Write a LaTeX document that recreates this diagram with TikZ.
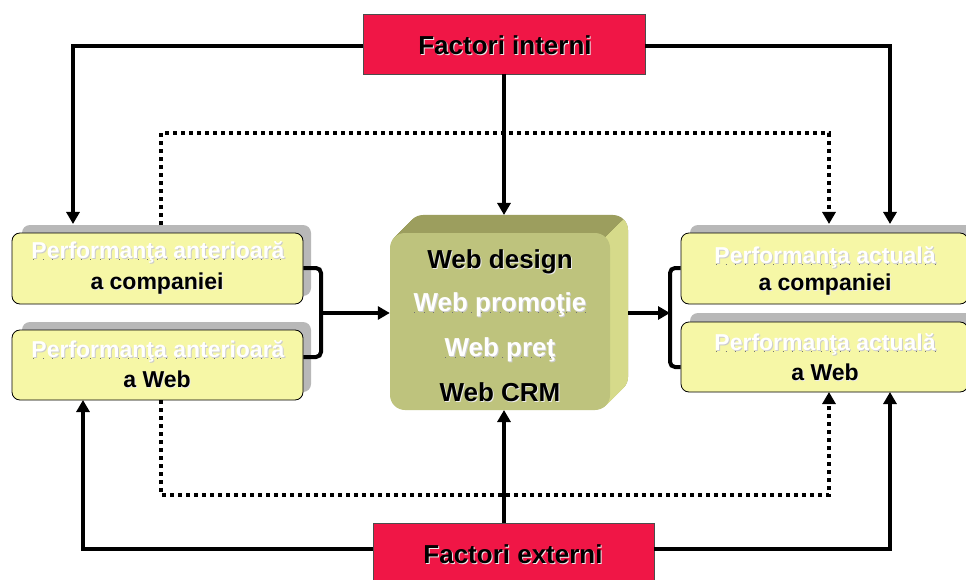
\documentclass[tikz,border=0pt]{standalone}
\usepackage{fontspec}
\setmainfont{Liberation Sans}
\usetikzlibrary{arrows.meta,calc}
\definecolor{redbox}{RGB}{240,22,70}
\definecolor{ybox}{RGB}{246,247,166}
\definecolor{shgray}{RGB}{184,184,184}
\definecolor{cfront}{RGB}{190,195,125}
\definecolor{ctop}{RGB}{156,158,94}
\definecolor{cside}{RGB}{214,218,138}
\newcommand{\embb}[1]{\leavevmode\rlap{\hspace{1pt}\raisebox{-1pt}{\textcolor{white!85!gray}{#1}}}#1}
\newcommand{\embw}[1]{\leavevmode\rlap{\hspace{1pt}\raisebox{-1pt}{\textcolor{black!20}{#1}}}\textcolor{white}{#1}}
\tikzset{
  x=1pt, y=-1pt,
  conn/.style={line width=4pt, draw=black},
  arr/.style={conn, -{Triangle[length=12pt,width=13pt]}},
  dots/.style={line width=4pt, draw=black, dash pattern=on 4pt off 4pt},
  darr/.style={dots, -{Triangle[length=12pt,width=13pt]}},
  ybx/.style={draw=black, line width=0.8pt, fill=ybox, rounded corners=8pt, inner sep=0pt},
  shbx/.style={fill=shgray, rounded corners=8pt, inner sep=0pt},
  redbx/.style={draw=black!70, line width=0.8pt, fill=redbox, inner sep=0pt},
  btxt/.style={font=\fontsize{23}{26}\selectfont\bfseries, inner sep=0pt},
  ctxt/.style={font=\fontsize{26}{30}\selectfont\bfseries, inner sep=0pt},
  dotu/.style={draw=black!55, line width=1pt, dash pattern=on 1pt off 8.5pt},
}
\begin{document}
\begin{tikzpicture}
\useasboundingbox (0,0) rectangle (966,580);
\fill[white] (0,0) rectangle (966,580);

% ---- red boxes
\node[redbx, minimum width=282pt, minimum height=60pt] (fi) at (504,44) {};
\node[ctxt] (fit) at (505,46) {\embb{Factori interni}};
\node[redbx, minimum width=281pt, minimum height=64pt] (fe) at (513.5,555) {};
\node[ctxt] (fet) at (513,555) {\embb{Factori externi}};

% ---- left boxes
\node[shbx, minimum width=289pt, minimum height=71pt] (lts) at (166.5,260.5) {};
\node[ybx, minimum width=291pt, minimum height=71pt] (lt) at (157.5,268.5) {};
\node[shbx, minimum width=289pt, minimum height=70pt] (lbs) at (166.5,357) {};
\node[ybx, minimum width=291pt, minimum height=70pt] (lb) at (157.5,365) {};
% ---- right boxes
\node[shbx, minimum width=287pt, minimum height=71pt] (rts) at (833.5,260.5) {};
\node[ybx, minimum width=287pt, minimum height=71pt] (rt) at (824.5,268.5) {};
\node[shbx, minimum width=287pt, minimum height=70pt] (rbs) at (833.5,348) {};
\node[ybx, minimum width=287pt, minimum height=70pt] (rb) at (824.5,357) {};

% ---- box texts
\node[btxt] (lt1) at (158,253) {\embw{Performanţa anterioară}};
\node[btxt] (lt2) at (157,284) {\embb{a companiei}};
\node[btxt] (lb1) at (158,352) {\embw{Performanţa anterioară}};
\node[btxt] (lb2) at (157,380) {\embb{a Web}};
\node[btxt] (rt1) at (825,258) {\embw{Performanţa actuală}};
\node[btxt] (rt2) at (825,285) {\embb{a companiei}};
\node[btxt] (rb1) at (825,345) {\embw{Performanţa actuală}};
\node[btxt] (rb2) at (825,373) {\embb{a Web}};
\foreach \t in {lt1,lb1,rt1,rb1}{
  \draw[dotu] ($(\t.base west)+(2,1)$) -- ($(\t.base east)+(0,1)$);
}

% ---- central 3D box
\foreach \i in {18,17,...,1}{
  \fill[ctop, rounded corners=15pt] (390+\i,233-\i) rectangle (610+\i,410-\i);
}
\begin{scope}
\clip (605.6,237.4) -- (650,193) -- (650,430) -- (598,430) -- (598,237.4) -- cycle;
\foreach \i in {18,17,...,1}{
  \fill[cside, rounded corners=15pt] (390+\i,233-\i) rectangle (610+\i,410-\i);
}
\end{scope}
\node[fill=cfront, rounded corners=15pt, minimum width=220pt, minimum height=177pt, inner sep=0pt] (cf) at (500,321.5) {};
\node[ctxt] (c1) at (500,262) {\embb{Web design}};
\node[ctxt] (c2) at (500,305) {\embw{Web promoţie}};
\node[ctxt] (c3) at (500,350) {\embw{Web preţ}};
\node[ctxt] (c4) at (500,393) {\embb{Web CRM}};
\foreach \t in {c2,c3}{
  \draw[dotu] ($(\t.base west)+(1,1)$) -- ($(\t.base east)+(0,1)$);
}

% ---- coordinates
\coordinate (cback) at (504,215);
\coordinate (cbot) at (504,410);
\coordinate (fibot) at (504,74);
\coordinate (fetop) at (504,523);
\coordinate (ltin) at (73,224);
\coordinate (rtin) at (890,224);
\coordinate (lbin) at (83,400);
\coordinate (rbin) at (890,392);
\coordinate (ltdot) at (161,225);
\coordinate (lbdot) at (161,400);
\coordinate (rtdot) at (829,224);
\coordinate (rbdot) at (829,392);
\coordinate (lbr) at (321,313);
\coordinate (rbr) at (670,313);
\coordinate (cright) at (628,313);

% ---- solid connectors
\draw[arr] (fi.west |- 0,46) -| (ltin);
\draw[arr] (fi.east |- 0,46) -| (rtin);
\draw[arr] (fibot) -- (cback);
\draw[arr] (fe.west |- 0,549) -| (lbin);
\draw[arr] (fe.east |- 0,549) -| (rbin);
\draw[arr] (fetop) -- (cbot);

% ---- dotted connectors
\draw[darr] (ltdot) -- (161,133) -- (829,133) -- (rtdot);
\draw[darr] (lbdot) -- (161,495) -- (829,495) -- (rbdot);

% ---- brackets
\draw[conn, rounded corners=5pt] (lt.east |- 0,268) -- (321,268) -- (321,357) -- (lb.east |- 0,357);
\draw[arr] (lbr) -- (cf.west |- lbr);
\draw[conn, rounded corners=5pt] (rt.west |- 0,268) -- (670,268) -- (670,367) -- (rb.west |- 0,367);
\draw[arr] (cright) -- (rbr);
\end{tikzpicture}
\end{document}
